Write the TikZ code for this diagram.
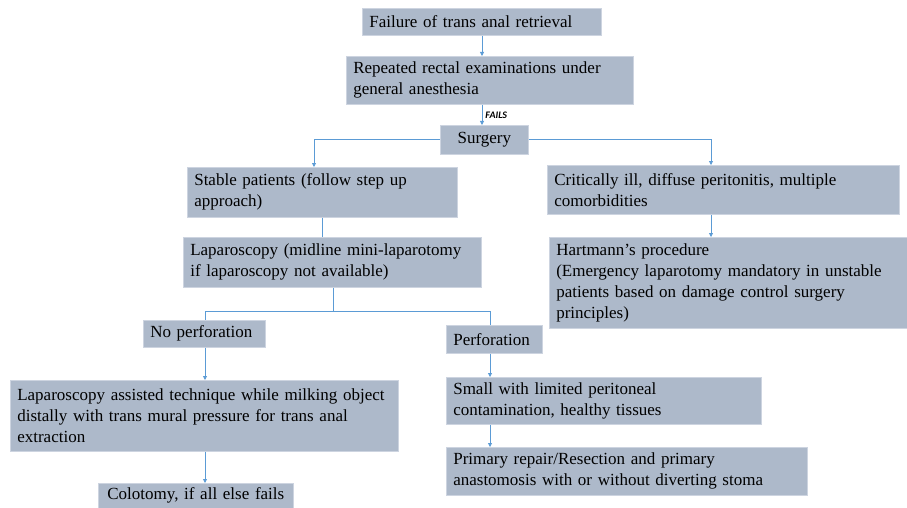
\documentclass[tikz,border=0pt]{standalone}
\usepackage{fontspec}
\setmainfont{Liberation Serif}
\newfontfamily\tagfont{Carlito}
\usepackage{tikz}
\usetikzlibrary{arrows.meta}
\definecolor{boxfill}{RGB}{173,185,202}
\definecolor{boxline}{RGB}{205,212,224}
\definecolor{linkblue}{RGB}{91,155,213}

\begin{document}
\begin{tikzpicture}
[x=1pt,y=-1pt,inner sep=0pt,
step box/.style={rectangle,draw=boxline,fill=boxfill,line width=0.6pt,anchor=north west,
  inner xsep=7pt,align=left,font=\rmfamily\fontsize{17}{21}\selectfont},
link/.style={draw=linkblue,line width=0.8pt},
arr/.style={link,-{Triangle[length=4pt,width=4pt]}}]
\useasboundingbox (0,0) rectangle (907,508);
\node (fail) at (362,8) [step box,minimum width=239,minimum height=27,text width=225] {Failure of trans anal retrieval};
\node (exam) at (346,56) [step box,minimum width=287,minimum height=48,text width=273] {Repeated rectal examinations under\\general anesthesia};
\node (surg) at (440,125) [step box,minimum width=88,minimum height=29,text width=74,align=center] {Surgery};
\node (stable) at (187,167) [step box,minimum width=270,minimum height=50,text width=256] {Stable patients (follow step up\\approach)};
\node (crit) at (547,165) [step box,minimum width=352,minimum height=49,text width=338] {Critically ill, diffuse peritonitis, multiple\\comorbidities};
\node (lap) at (183,237) [step box,minimum width=298,minimum height=50,text width=284] {Laparoscopy (midline mini-laparotomy\\if laparoscopy not available)};
\node (hart) at (549,237) [step box,minimum width=358,minimum height=91,text width=344] {Hartmann’s procedure\\(Emergency laparotomy mandatory in unstable\\patients based on damage control surgery\\principles)};
\node (noperf) at (143,320) [step box,minimum width=122,minimum height=27,text width=108] {No perforation};
\node (perf) at (446,325) [step box,minimum width=96,minimum height=28,text width=82] {Perforation};
\node (assist) at (10,380) [step box,minimum width=388,minimum height=71,text width=374] {Laparoscopy assisted technique while milking object\\distally with trans mural pressure for trans anal\\extraction};
\node (small) at (446,377) [step box,minimum width=315,minimum height=47,text width=301] {Small with limited peritoneal\\contamination, healthy tissues};
\node (primary) at (446,447) [step box,minimum width=361,minimum height=48,text width=347] {Primary repair/Resection and primary\\anastomosis with or without diverting stoma};
\node (colot) at (98,483) [step box,minimum width=195,minimum height=25,text width=181,align=center] {Colotomy, if all else fails};
\coordinate (trunk) at (482,0);
\coordinate (stabin) at (314,167);
\coordinate (critin) at (711,165);
\coordinate (split) at (333,311);
\coordinate (leftin) at (205,320);
\coordinate (perfin) at (490,325);
\draw[arr] (fail.south -| trunk) -- (exam.north -| trunk);
\draw[arr] (exam.south -| trunk) -- node[right=3pt,pos=0.5,font=\tagfont\bfseries\itshape\fontsize{10}{10}\selectfont] {FAILS} (surg.north -| trunk);
\draw[arr] (surg.west) -| (stabin);
\draw[arr] (surg.east) -| (critin);
\draw[link] (stable.south -| 322,0) -- (lap.north -| 322,0);
\draw[arr] (crit.south -| critin) -- (hart.north -| critin);
\draw[link] (lap.south -| split) -- (split);
\draw[link] (split) -| (leftin);
\draw[link] (split) -| (perfin);
\draw[arr] (noperf.south -| leftin) -- (assist.north -| leftin);
\draw[arr] (assist.south -| leftin) -- (colot.north -| leftin);
\draw[arr] (perf.south -| perfin) -- (small.north -| perfin);
\draw[arr] (small.south -| perfin) -- (primary.north -| perfin);
\end{tikzpicture}
\end{document}
